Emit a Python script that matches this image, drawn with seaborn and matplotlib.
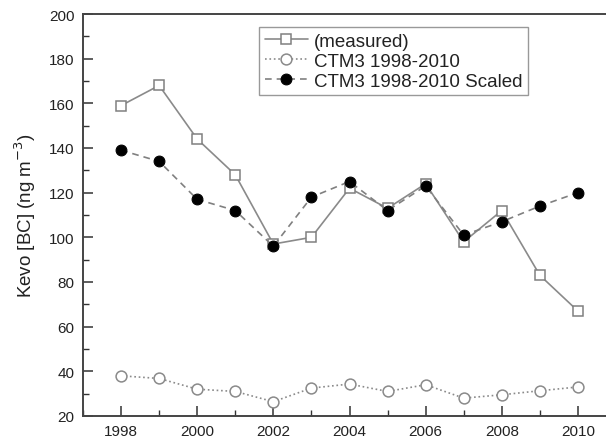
import matplotlib
matplotlib.use("Agg")
import matplotlib.pyplot as plt
from matplotlib.ticker import MultipleLocator
import seaborn as sns
import pandas as pd

years = list(range(1998, 2011))
measured = [159, 168, 144, 128, 97, 100, 122, 113, 124, 98, 112, 83, 67]
ctm3 = [38, 36.8, 32, 31, 26.4, 32.5, 34.3, 31, 34, 28, 29.5, 31.3, 33]
ctm3_scaled = [139, 134, 117, 112, 96, 118, 125, 112, 123, 101, 107, 114, 120]

sns.set_style("white")
plt.rcParams["font.family"] = ["Liberation Sans", "DejaVu Sans"]

fig = plt.figure(figsize=(6.06, 4.39), dpi=100)
ax = fig.add_axes([83 / 606, 22 / 439, 533 / 606, 402 / 439])

df = pd.DataFrame({"year": years, "measured": measured,
                   "ctm3": ctm3, "scaled": ctm3_scaled})

sns.lineplot(data=df, x="year", y="measured", ax=ax, color="#8a8a8a",
             lw=1.2, marker="s", markersize=7.6, markerfacecolor="white",
             markeredgecolor="#808080", markeredgewidth=1.1,
             label="(measured)")
sns.lineplot(data=df, x="year", y="ctm3", ax=ax, color="#8a8a8a",
             lw=1.2, linestyle=":", marker="o", markersize=7.8,
             markerfacecolor="white", markeredgecolor="#8a8a8a",
             markeredgewidth=1.1, label="CTM3 1998-2010")
sns.lineplot(data=df, x="year", y="scaled", ax=ax, color="#808080",
             lw=1.2, linestyle=(0, (4, 3)), marker="o", markersize=7.8,
             markerfacecolor="black", markeredgecolor="black",
             label="CTM3 1998-2010 Scaled")

ax.set_xlim(1997.0, 2011.0)
ax.set_ylim(20, 200)
ax.xaxis.set_major_locator(MultipleLocator(2))
ax.xaxis.set_minor_locator(MultipleLocator(1))
ax.yaxis.set_major_locator(MultipleLocator(20))
ax.yaxis.set_minor_locator(MultipleLocator(10))
ax.tick_params(which="major", direction="in", length=7, width=1.1,
               labelsize=11, labelcolor="#222222", color="#333333", pad=6)
ax.tick_params(which="minor", direction="in", length=4, width=1.0,
               color="#333333")
ax.tick_params(axis="x", which="both", bottom=True)
ax.tick_params(axis="y", which="both", left=True)
for s in ax.spines.values():
    s.set_color("#444444")
    s.set_linewidth(1.4)

ax.set_xlabel("")
ax.set_ylabel("Kevo [BC] (ng m$^{-3}$)", fontsize=13.5, labelpad=8,
              color="#222222")

leg = ax.legend(loc="upper left", bbox_to_anchor=(176 / 533, 1 - 13 / 402),
                fontsize=13.5, frameon=True, fancybox=False,
                edgecolor="#808080", handlelength=2.3, handletextpad=0.35,
                borderpad=0.3, labelspacing=0.15, borderaxespad=0,
                markerscale=1.0)
leg.get_frame().set_linewidth(1.0)
for t in leg.get_texts():
    t.set_color("#222222")

fig.savefig("out.png", dpi=100)
